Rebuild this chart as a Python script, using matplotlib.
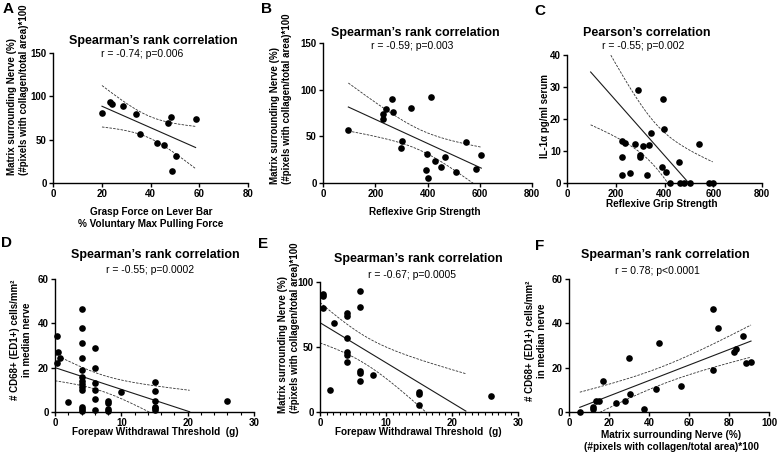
import numpy as np
import matplotlib
matplotlib.use('Agg')
import matplotlib.pyplot as plt
from matplotlib.ticker import MultipleLocator

plt.rcParams['font.family'] = ['Liberation Sans', 'DejaVu Sans']

W, H = 778, 463

# ---------------- data ----------------
# A: grasp force (% max) vs matrix surrounding nerve
a_x = [20.1, 23.5, 24.1, 28.7, 34.2, 35.8, 42.7, 45.6, 47.0, 48.4, 50.5, 48.7, 58.5]
a_y = [81.2, 93.0, 91.0, 89.0, 80.0, 57.0, 46.0, 44.0, 69.0, 76.5, 31.0, 14.0, 74.0]

# B: reflexive grip strength vs matrix surrounding nerve
b_x = [97, 228, 228, 241, 263, 267, 297, 303, 335, 396, 397, 401, 412, 428, 453, 467, 510, 546, 587, 606]
b_y = [56.7, 73.5, 68.2, 79.0, 89.7, 75.7, 37.7, 45.2, 80.0, 13.6, 30.9, 5.4, 91.9, 23.7, 16.9, 28.0, 11.8, 44.0, 15.4, 30.5]

# C: reflexive grip strength vs IL-1a serum (one value above the axis range)
c_x = [97, 226, 226, 226, 239, 257, 280, 293, 298, 298, 312, 330, 336, 345, 390, 392, 397, 405,
       424, 461, 465, 479, 506, 540, 581, 598]
c_y = [100, 13.0, 8.1, 2.4, 12.6, 3.0, 12.1, 29.2, 8.8, 8.2, 11.6, 2.4, 12.0, 15.7, 5.0, 26.1, 17.0, 3.4,
       0, 6.6, 0, 0, 0, 12.1, 0, 0]

# D: forepaw withdrawal threshold vs CD68+ cells
d_x = [0.3, 0.4, 0.8, 0.3, 2, 4, 4, 4, 4, 4, 4, 4, 4, 4, 4, 4, 4, 4,
       6, 6, 6, 6, 6, 6, 8, 8, 8, 8, 10, 15, 15, 15, 15, 15, 15, 26]
d_y = [34.3, 27.2, 24.2, 22.3, 4.7, 46.3, 37.7, 31.0, 24.5, 18.8, 15.9, 14.1, 12.6, 11.1, 9.9, 2.4, 1.4, 0.5,
       28.7, 19.7, 12.9, 9.9, 5.7, 0.9, 5.1, 4.2, 1.5, 0.6, 9.0, 13.7, 9.6, 5.1, 2.4, 1.7, 0.9, 5.1]

# E: forepaw withdrawal threshold vs matrix surrounding nerve
e_x = [0.4, 0.5, 0.5, 1.5, 2.1, 4.1, 4.1, 4.1, 4.1, 4.1, 4.1, 6.1, 6.1, 6.1, 6.1, 6.1, 8.0, 15, 15, 15, 25.9]
e_y = [90.5, 89.0, 80.0, 16.9, 68.8, 76.5, 73.9, 57.0, 46.0, 44.2, 38.1, 92.8, 80.8, 31.5, 30.2, 24.0, 28.4,
       15.1, 13.6, 5.4, 12.3]

# F: matrix surrounding nerve vs CD68+ cells
f_x = [5.4, 11.9, 11.9, 13.5, 15.2, 16.8, 23.7, 27.9, 29.9, 30.7, 37.4, 43.6, 44.9, 55.8, 72.1, 74.6, 72.1,
       82.7, 83.4, 87.1, 88.3, 91.0]
f_y = [0.2, 2.4, 1.4, 4.8, 5.0, 14.0, 4.2, 5.1, 24.5, 8.0, 1.2, 10.2, 31.0, 11.7, 46.3, 37.7, 18.8,
       27.2, 28.6, 34.3, 22.0, 22.4]

titles = ["Spearman\u2019s rank correlation", "Spearman\u2019s rank correlation", "Pearson\u2019s correlation",
          "Spearman\u2019s rank correlation", "Spearman\u2019s rank correlation", "Spearman\u2019s rank correlation"]
stats = ["r = -0.74; p=0.006", "r = -0.59; p=0.003", "r = -0.55; p=0.002",
         "r = -0.55; p=0.0002", "r = -0.67; p=0.0005", "r = 0.78; p<0.0001"]
letters = ["A", "B", "C", "D", "E", "F"]
matrix_lbl = "Matrix surrounding Nerve (%)\n(#pixels with collagen/total area)*100"
cd68_lbl = "# CD68+ (ED1+) cells/mm\u00b2\nin median nerve"
xlabels = ["Grasp Force on Lever Bar\n% Voluntary Max Pulling Force", "Reflexive Grip Strength",
           "Reflexive Grip Strength", "Forepaw Withdrawal Threshold  (g)", "Forepaw Withdrawal Threshold  (g)",
           matrix_lbl]
ylabels = [matrix_lbl, matrix_lbl, "IL-1\u03b1 pg/ml serum", cd68_lbl, matrix_lbl, cd68_lbl]

# ---------------- helpers ----------------
def tq975(v):
    z = 1.959964
    g1 = (z**3 + z) / 4
    g2 = (5*z**5 + 16*z**3 + 3*z) / 96
    g3 = (3*z**7 + 19*z**5 + 17*z**3 - 15*z) / 384
    return z + g1/v + g2/v**2 + g3/v**3


def fit_ci(x, y, x0, x1):
    x = np.asarray(x, float); y = np.asarray(y, float)
    n = len(x)
    b, a = np.polyfit(x, y, 1)
    xs = np.linspace(x0, x1, 300)
    yh = a + b * xs
    s = np.sqrt(np.sum((y - (a + b * x))**2) / (n - 2))
    sxx = np.sum((x - x.mean())**2)
    se = s * np.sqrt(1.0/n + (xs - x.mean())**2 / sxx)
    t = tq975(n - 2)
    return xs, yh, yh - t*se, yh + t*se


fig = plt.figure(figsize=(W/100, H/100), dpi=100)


def add_ax(x0, y0, x1, y1):
    return fig.add_axes([x0/W, 1 - y1/H, (x1 - x0)/W, (y1 - y0)/H])


def ftext(x, y, s, **kw):
    fig.text(x/W, 1 - y/H, s, **kw)


panels = [
    dict(box=(53, 53, 248, 183), x=a_x, y=a_y, xlim=(0, 80), ylim=(0, 150), xt=20, yt=50, xm=None,
         fr=(min(a_x), max(a_x)), title=(153, 41), stat=(142, 54), let=(8, 9), xl=(151, 218),
         yl=(18, 175), yva='bottom', yma='left'),
    dict(box=(323, 43, 532, 183), x=b_x, y=b_y, xlim=(0, 800), ylim=(0, 150), xt=200, yt=50, xm=None,
         fr=(min(b_x), max(b_x)), title=(415, 33), stat=(412, 46), let=(267, 9), xl=(425, 212),
         yl=(281, 184), yva='bottom', yma='left'),
    dict(box=(567, 55, 762, 183), x=c_x, y=c_y, xlim=(0, 800), ylim=(0, 40), xt=200, yt=10, xm=None,
         fr=(min(c_x), max(c_x)), title=(647, 33), stat=(643, 46), let=(540, 11), xl=(662, 204),
         yl=(545, 116), yva='center', yma='center'),
    dict(box=(55, 279, 254, 412), x=d_x, y=d_y, xlim=(0, 30), ylim=(0, 60), xt=10, yt=20, xm=2,
         fr=(0, 20.3), title=(155, 255), stat=(150, 270), let=(7, 243), xl=(155, 432),
         yl=(21, 340), yva='center', yma='center'),
    dict(box=(320, 282, 518, 412), x=e_x, y=e_y, xlim=(0, 30), ylim=(0, 100), xt=10, yt=50, xm=1,
         fr=(0, 22.1), title=(418, 259), stat=(412, 275), let=(263, 244), xl=(418, 432),
         yl=(289, 413), yva='bottom', yma='left'),
    dict(box=(569, 279, 769, 412), x=f_x, y=f_y, xlim=(0, 100), ylim=(0, 60), xt=20, yt=20, xm=None,
         fr=(min(f_x), max(f_x)), title=(665, 255), stat=(657, 271), let=(540, 246), xl=(671, 441),
         yl=(536, 341), yva='center', yma='center'),
]

for i, p in enumerate(panels):
    ax = add_ax(*p['box'])
    x = np.asarray(p['x'], float); y = np.asarray(p['y'], float)
    xs, yh, lo, hi = fit_ci(x, y, *p['fr'])
    ax.plot(xs, yh, color='#1a1a1a', lw=0.8)
    ax.plot(xs, lo, color='#333333', lw=0.6, ls=(0, (3, 1.5)))
    ax.plot(xs, hi, color='#333333', lw=0.6, ls=(0, (3, 1.5)))
    m = (y <= p['ylim'][1]) & (x <= p['xlim'][1])
    ax.scatter(x[m], y[m], s=23, color='black', zorder=5, clip_on=False, linewidths=0)
    ax.set_xlim(*p['xlim']); ax.set_ylim(*p['ylim'])
    ax.xaxis.set_major_locator(MultipleLocator(p['xt']))
    ax.yaxis.set_major_locator(MultipleLocator(p['yt']))
    if p['xm']:
        ax.xaxis.set_minor_locator(MultipleLocator(p['xm']))
        ax.tick_params(axis='x', which='minor', length=2, width=0.8)
    for sp in ['top', 'right']:
        ax.spines[sp].set_visible(False)
    for sp in ['left', 'bottom']:
        ax.spines[sp].set_linewidth(1.0)
    ax.tick_params(which='major', length=3.2, width=1.0, labelsize=7, pad=1.2, direction='out')
    for lab in ax.get_xticklabels() + ax.get_yticklabels():
        lab.set_fontweight('bold')
    ax.patch.set_alpha(0)

    ftext(*p['title'], titles[i], ha='center', va='center', fontsize=9, fontweight='bold')
    ftext(*p['stat'], stats[i], ha='center', va='center', fontsize=7.5)
    ftext(*p['let'], letters[i], ha='center', va='center', fontsize=11, fontweight='bold')
    ftext(*p['xl'], xlabels[i], ha='center', va='center', fontsize=7.2, fontweight='bold', linespacing=1.25)
    ftext(*p['yl'], ylabels[i], ha='center', va=p['yva'], fontsize=7.0, fontweight='bold', rotation=90,
          rotation_mode='default', multialignment=p['yma'], linespacing=1.25)

fig.savefig('out.png', dpi=100)
